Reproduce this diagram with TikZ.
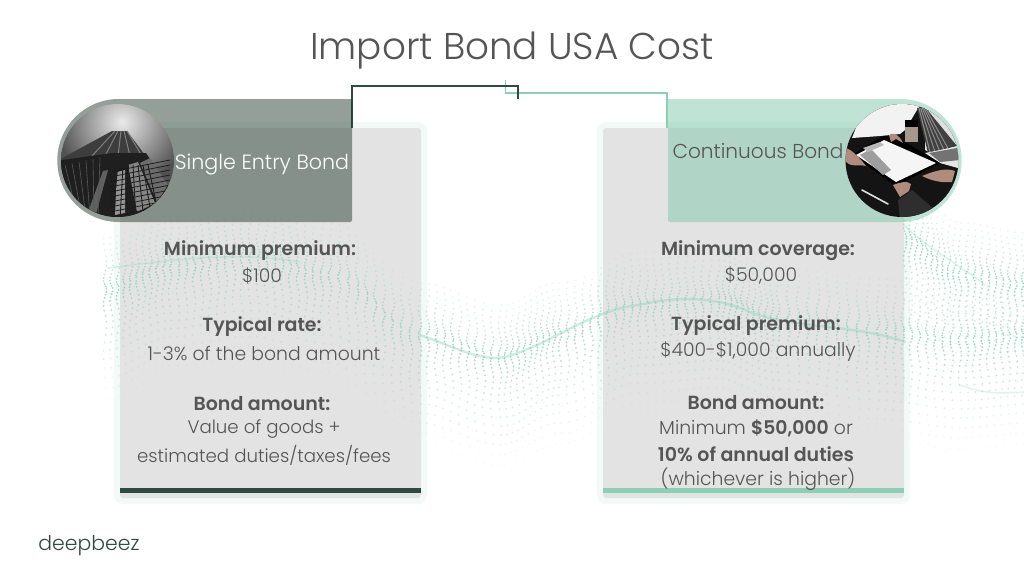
\documentclass[tikz,border=0pt]{standalone}
\usepackage{fontspec}
\setmainfont{Poppins}[UprightFont=* Light,BoldFont=* SemiBold]
\definecolor{ink}{HTML}{555555}
\definecolor{deep}{HTML}{2F4A40}
\definecolor{mint}{HTML}{8CCFB6}
\definecolor{dots}{HTML}{8FD3BA}
\definecolor{pillL}{HTML}{20372A}
\definecolor{pillR}{HTML}{73C3A4}
\definecolor{skin}{HTML}{B08C7C}
\tikzset{
  cardbox/.style={rectangle,fill=black!11,inner sep=0pt,minimum width=301pt,minimum height=370pt,rounded corners=3pt},
  halobox/.style={rectangle,draw=mint,draw opacity=.11,line width=6pt,inner sep=0pt,minimum width=307pt,minimum height=376pt,rounded corners=6pt},
  barbox/.style={rectangle,inner sep=0pt,minimum width=301pt,minimum height=4.5pt},
  txt/.style={inner sep=0pt,text=ink,font=\fontsize{18.8}{22}\selectfont,anchor=center},
  stxt/.style={txt,font=\fontsize{18.2}{22}\selectfont},
  btxt/.style={txt,font=\fontsize{19}{22}\selectfont\bfseries},
  link/.style={line width=1.3pt}
}
\newcommand{\waveband}[4]{%
 \foreach \t in {0,.1,...,.99}{%
  \pgfmathsetmacro{\xx}{#1+\t*(#3-#1)}%
  \pgfmathsetmacro{\yy}{#2+(#4-#2)*(1-cos(\t*180))/2}%
  \foreach \j in {1,...,13}{%
   \pgfmathsetmacro{\dd}{1.4*\j+.2*\j*\j}%
   \pgfmathsetmacro{\ox}{\xx+1.5*sin(\j*45+\xx*4)}%
   \pgfmathsetmacro{\oo}{.95-.06*\j}%
   \fill[dots,fill opacity=\oo] (\ox,\yy-\dd) circle (1pt);}%
  \foreach \j in {1,...,17}{%
   \pgfmathsetmacro{\dd}{1.8*\j+.27*\j*\j}%
   \pgfmathsetmacro{\ox}{\xx+1.5*sin(\j*45+\xx*4)}%
   \pgfmathsetmacro{\oo}{.95-.052*\j}%
   \fill[dots,fill opacity=\oo] (\ox,\yy+\dd) circle (1.05pt);}%
 }}
\begin{document}
\begin{tikzpicture}[x=1pt,y=-1pt]
\useasboundingbox (0,0) rectangle (1024,576);
\fill[white] (0,0) rectangle (1024,576);
% cards
\node[halobox] (leftHalo) at (270.5,313) {};
\node[halobox] (rightHalo) at (753.5,313) {};
\node[cardbox] (leftCard) at (270.5,313) {};
\node[cardbox] (rightCard) at (753.5,313) {};
% dotted wave background
\waveband{105}{290}{170}{268}
\waveband{170}{268}{250}{258}
\waveband{250}{258}{330}{275}
\waveband{330}{275}{420}{335}
\waveband{420}{335}{500}{357}
\waveband{500}{357}{560}{335}
\waveband{560}{335}{639}{305}
\waveband{639}{305}{718}{300}
\waveband{718}{300}{778}{320}
\waveband{778}{320}{878}{331}
\waveband{878}{331}{960}{340}
\waveband{960}{340}{1030}{335}
\waveband{905}{240}{960}{275}
\waveband{960}{275}{1030}{285}
\draw[dots,opacity=.42,line width=2.4pt,line cap=round]
  (420,335) .. controls (450,345) and (480,362) .. (505,357)
  .. controls (550,345) and (590,310) .. (639,305)
  .. controls (680,295) and (720,298) .. (750,312)
  .. controls (790,328) and (860,325) .. (905,342);
\draw[dots,opacity=.3,line width=1.5pt,line cap=round]
  (108,268) .. controls (160,262) and (230,250) .. (300,262);
\draw[dots,opacity=.3,line width=1.5pt,line cap=round]
  (905,226) .. controls (930,250) and (960,265) .. (985,285);
\draw[dots,opacity=.25,line width=1.5pt,line cap=round]
  (960,385) .. controls (985,395) and (1005,393) .. (1024,392);
% bars
\node[barbox,fill=deep] (leftBar) at (270.5,490.5) {};
\node[barbox,fill=mint] (rightBar) at (753.5,490.5) {};
% connectors
\coordinate (leftStart) at (352,128);
\coordinate (leftEnd) at (518,99);
\coordinate (rightStart) at (667,128);
\coordinate (rightEnd) at (505.7,80);
\draw[link,mint] (rightStart) |- (rightEnd |- 0,93) -- (rightEnd);
\draw[link,deep] (leftStart) |- (leftEnd |- 0,86) -- (leftEnd);
% header pills
\fill[fill=pillL,fill opacity=.48] (352,99) [rounded corners=61.5pt] -- (57.3,99) -- (57.3,222) [rounded corners=2pt] -- (352,222) [sharp corners] -- cycle;
\fill[fill=pillR,fill opacity=.45] (668,99) [rounded corners=61.5pt] -- (961.7,99) -- (961.7,222) [rounded corners=2pt] -- (668,222) [sharp corners] -- cycle;
% building photo
\begin{scope}
\clip (117.5,160.5) circle (56.5pt);
\shade[inner color=black!8,outer color=black!68] (57,57) rectangle (187,187);
\fill[black!76] (112,131) -- (127,131) -- (168,186) -- (160,225) -- (70,225) -- (55,162) -- cycle;
\foreach \a/\b in {115/92,118/105,121/118,124/130,127/142}{\draw[black!50,line width=1pt] (\a,131) -- (\b,156);}
\fill[black!88] (55,161) -- (112,153) -- (146,153) -- (168,186) -- (160,225) -- (70,225) -- cycle;
\fill[black!62] (103,171) -- (108,170) -- (96,214) -- (88,212) -- cycle;
\fill[black!42] (117,172) -- (125,170) -- (125,213) -- (115,215) -- cycle;
\fill[black!48] (128,165) -- (138,162) -- (155,203) -- (137,212) -- cycle;
\fill[black!58] (140,163) -- (150,158) -- (168,185) -- (157,202) -- cycle;
\foreach \k in {0,...,9}{
  \draw[black!90,line width=.7pt] (110,{172+5*\k}) -- (170,{160+5*\k});
}
\foreach \k in {0,...,6}{
  \draw[black!88,line width=.9pt] ({118+5*\k},165) -- ({112+8*\k},220);
}
\foreach \k in {0,...,5}{
  \draw[black!65,line width=.6pt] ({65+7*\k},{165-1.5*\k}) -- ({78+4*\k},218);
}
\end{scope}
% contract photo
\begin{scope}
\clip (902,160.5) circle (56.5pt);
\fill[black!92] (840,100) rectangle (965,220);
\fill[black!5] (852,138) -- (862,112) -- (885,100) -- (925,100) -- (917,110) -- (905,130) -- (900,134) -- (880,136) -- cycle;
\fill[black!12] (925,100) -- (965,100) -- (965,170) -- (925,150) -- cycle;
\fill[black!75] (917,108) -- (925,107) -- (957,146) -- (928,153) -- cycle;
\foreach \k in {0,...,4}{\draw[black!45,line width=1pt] ({919+1.6*\k},108) -- ({930+5*\k},152);}
\fill[black!10] (925,153) -- (960,146) -- (965,170) -- (940,163) -- cycle;
\fill[black!55] (929,153) -- (957,148) -- (960,160) -- (940,162) -- cycle;
\fill[brown!40!black!50!white] (905,124) rectangle (918,142);
\fill[black] (905,120) rectangle (918,127);
\fill[black] (852,155) -- (883,136) -- (898,138) -- (940,163) -- (896,186) -- cycle;
\fill[black!4] (856,155) -- (884,140) -- (936,163) -- (896,182) -- cycle;
\fill[black!38] (860,155) -- (871,149) -- (891,170) -- (883,175) -- cycle;
\fill[black!28] (863,148) -- (880,142) -- (884,145) -- (868,152) -- cycle;
\fill[skin] (846,148) .. controls (852,150) and (860,158) .. (866,166) .. controls (858,164) and (849,168) .. (845,160) -- cycle;
\fill[skin] (889,135) .. controls (892,132) and (899,134) .. (903,143) -- (896,139) -- (891,142) -- cycle;
\fill[skin] (922,176) .. controls (932,172) and (945,167) .. (955,171) -- (952,182) .. controls (942,183) and (932,181) .. (922,176) -- cycle;
\fill[skin] (893,185) .. controls (898,183) and (907,180) .. (911,184) -- (909,191) -- (900,197) -- cycle;
\fill[black!82] (898,200) -- (912,190) -- (935,210) -- (925,220) -- (900,220) -- cycle;
\draw[black!12,line width=1.6pt,line cap=round] (862,190) -- (888,204);
\end{scope}
% title and labels
\node[txt,font=\fontsize{37.3}{42}\selectfont] (title) at (512,51) {Import Bond USA Cost};
\node[txt,text=white,font=\fontsize{20.6}{24}\selectfont] (leftHead) at (262,165) {Single Entry Bond};
\node[txt,font=\fontsize{20.1}{24}\selectfont] (rightHead) at (758,151) {Continuous Bond};
\node[btxt] (l1) at (260,251) {Minimum premium:};
\node[txt] (l2) at (262,276) {\$100};
\node[btxt] (l3) at (262,327) {Typical rate:};
\node[txt] (l4) at (264,353) {1-3\% of the bond amount};
\node[btxt] (l5) at (262,404) {Bond amount:};
\node[stxt] (l6) at (264,429) {Value of goods +};
\node[stxt] (l7) at (264,455) {estimated duties/taxes/fees};
\node[btxt] (r1) at (758,251) {Minimum coverage:};
\node[txt] (r2) at (761,275) {\$50,000};
\node[btxt] (r3) at (756,326) {Typical premium:};
\node[txt] (r4) at (758,351) {\$400-\$1,000 annually};
\node[btxt] (r5) at (756,403) {Bond amount:};
\node[txt] (r6) at (756,428) {Minimum \textbf{\$50,000} or};
\node[btxt] (r7) at (756,454) {10\% of annual duties};
\node[txt] (r8) at (758,479) {(whichever is higher)};
\node[txt,text=deep,font=\fontsize{20.4}{24}\selectfont] (logo) at (89,546) {deepbeez};
\end{tikzpicture}
\end{document}
